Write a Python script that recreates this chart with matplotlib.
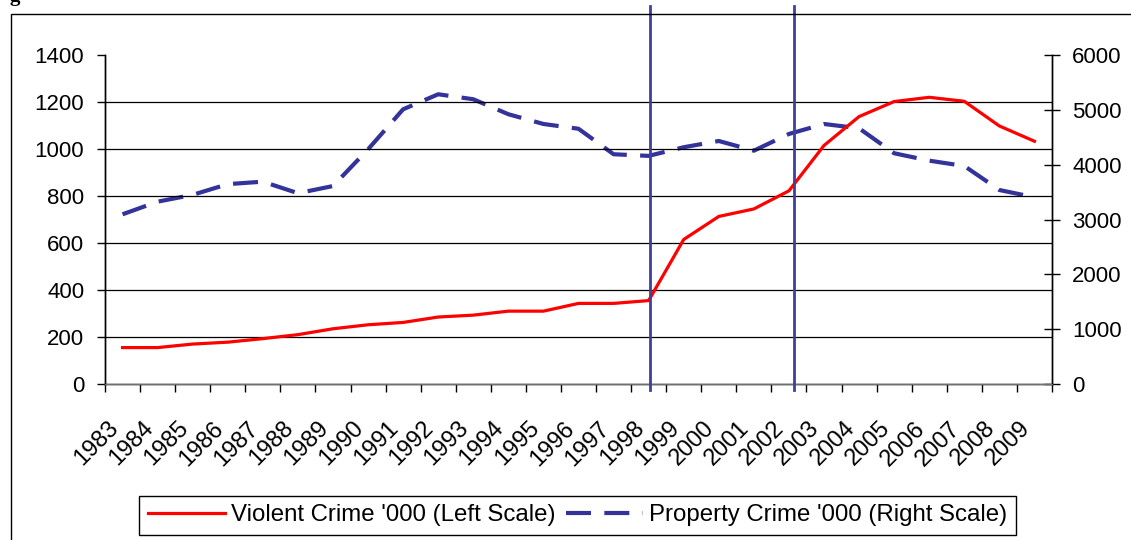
import matplotlib
matplotlib.use("Agg")
import matplotlib.pyplot as plt
import matplotlib.patches as mpatches
import matplotlib.transforms as mtransforms

plt.rcParams['font.family'] = ['Liberation Sans', 'DejaVu Sans']

years = [str(y) for y in range(1983, 2010)]
violent = [155, 155, 170, 178, 193, 210, 235, 252, 262, 285, 293, 310, 310, 343,
           343, 355, 615, 713, 745, 822, 1015, 1138, 1202, 1220, 1203, 1098, 1033]
property_crime = [3095, 3325, 3450, 3645, 3690, 3480, 3610, 4280, 5010, 5284, 5193,
                  4920, 4742, 4655, 4190, 4160, 4318, 4432, 4255, 4560, 4742, 4663,
                  4208, 4073, 3976, 3538, 3405]
left_ticks = [0, 200, 400, 600, 800, 1000, 1200, 1400]
right_ticks = [0, 1000, 2000, 3000, 4000, 5000, 6000]
event_pos = [15.04, 19.15]

fig = plt.figure(figsize=(11.31, 5.40), dpi=100)
ax = fig.add_axes([105 / 1131, 1 - 384 / 540, 947 / 1131, 329 / 540])
ax2 = ax.twinx()

x = list(range(len(years)))
red_line, = ax.plot(x, violent, color='#FF0000', lw=2.3, zorder=5,
                    label="Violent Crime '000 (Left Scale)")
blue_line, = ax2.plot(x, property_crime, color='#333399', lw=3.0, dashes=(6, 3.2),
                      label="Property Crime '000 (Right Scale)")

ax.set_xlim(-0.5, len(years) - 0.5)
ax.set_ylim(0, 1400)
ax2.set_ylim(0, 6000)

# gridlines from the left axis
for v in left_ticks[1:-1]:
    ax.axhline(v, color='black', lw=0.9, zorder=1)

for xp in event_pos:
    ax.axvline(xp, ymin=-0.018, ymax=1.15, color='#3F3F9F', lw=2.0, clip_on=False, zorder=6)

ax.set_yticks(left_ticks)
ax.set_yticklabels([str(v) for v in left_ticks])
ax2.set_yticks(right_ticks)
ax2.set_yticklabels([str(v) for v in right_ticks])

ax.set_xticks(x)
ax.set_xticklabels(years, rotation=45, ha='right')
ax.set_xticks([i - 0.5 for i in range(len(years) + 1)], minor=True)
ax.tick_params(axis='x', which='major', length=0, pad=24, labelsize=17)
ax.tick_params(axis='x', which='minor', length=6, width=1, direction='out')
off = mtransforms.ScaledTranslation(0.0, 0, fig.dpi_scale_trans)
for lab in ax.get_xticklabels():
    lab.set_transform(lab.get_transform() + off)

ax.tick_params(axis='y', length=6, width=1, direction='out', pad=9, labelsize=16)
ax2.tick_params(axis='y', length=11, width=1, direction='inout', pad=9, labelsize=16)

for a in (ax, ax2):
    a.spines['top'].set_visible(False)
    for s in ('left', 'right', 'bottom'):
        a.spines[s].set_linewidth(1)
        a.spines[s].set_color('black')
ax.spines['bottom'].set_color('#707070')
ax.patch.set_visible(False)
ax.set_zorder(ax2.get_zorder() + 1)

leg = fig.legend(handles=[red_line, blue_line], loc='center', ncol=2,
                 bbox_to_anchor=(577.5 / 1131, 1 - 515.5 / 540),
                 fontsize=17.3, handlelength=3.2, handletextpad=0.25,
                 columnspacing=0.45, borderpad=0.35, fancybox=False,
                 edgecolor='black', framealpha=1)
leg.get_frame().set_linewidth(1)

# outer chart frame (cut by the picture edge on the right and bottom)
fig.patches.append(mpatches.Rectangle((11 / 1131, -0.2), 2, 1.2 - 14 / 540,
                                      transform=fig.transFigure, fill=False,
                                      edgecolor='black', lw=1))
fig.text(9 / 1131, 1 - 1 / 540, "g", fontsize=15, fontweight='bold',
         family='Liberation Serif', va='baseline')

fig.savefig("out.png", dpi=100)
